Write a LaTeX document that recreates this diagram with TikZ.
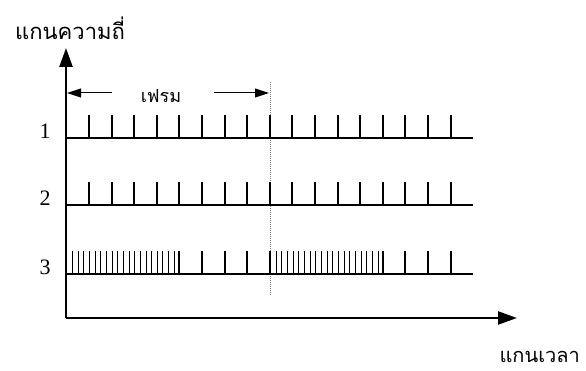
\documentclass[tikz,border=0pt]{standalone}
\usepackage{fontspec}
\setmainfont{Liberation Serif}
\newfontfamily\thaifont[Script=Thai]{Loma}
\usetikzlibrary{arrows.meta, positioning}

\begin{document}
\begin{tikzpicture}[x=1pt, y=-1pt,
  axis/.style={line width=2.4pt, -{Triangle[length=19pt, width=13pt]}},
  rowline/.style={line width=2pt},
  tick/.style={line width=2pt},
  densetick/.style={line width=1pt},
  framearrow/.style={line width=1pt, -{Triangle[length=14pt, width=9pt]}},
  num/.style={font=\fontsize{22}{22}\selectfont, inner sep=0pt},
  thai/.style={font=\thaifont\fontsize{22}{22}\selectfont, inner sep=0pt}
]
  \useasboundingbox (0,0) rectangle (586,371);

  \coordinate (o) at (66,318);
  \coordinate (ytip) at (66,48);
  \coordinate (xtip) at (517,318);
  \draw[axis] (o) -- (ytip);
  \draw[axis] (o) -- (xtip);

  \node[thai, anchor=base west] (ylab) at (15,40) {แกนความถี่};
  \node[thai, font=\thaifont\fontsize{20}{20}\selectfont, anchor=base east] (xlab) at (580,362) {แกนเวลา};

  % frame
  \coordinate (fl) at (112,93);
  \coordinate (fr) at (214,93);
  \draw[framearrow] (fl) -- (67,93);
  \draw[framearrow] (fr) -- (269,93);
  \node[thai, font=\thaifont\fontsize{18}{18}\selectfont] (frame) at (161,96) {เฟรม};
  \draw[line width=1pt, gray, dash pattern=on 1pt off 1pt] (270.5,82) -- (270.5,295);

  % rows
  \foreach \y/\lab in {138/1, 205/2, 274/3} {
    \node[num] (n\lab) at (45,\y-7) {\lab};
    \draw[rowline] (66,\y) -- (473,\y);
  }
  \foreach \k in {0,...,16} {
    \pgfmathsetmacro\xx{round(89+22.6*\k)}
    \draw[tick] (\xx,138) -- ++(0,-23);
    \draw[tick] (\xx,205) -- ++(0,-23);
  }
  \foreach \k in {4,...,8,13,14,15,16} {
    \pgfmathsetmacro\xx{round(89+22.6*\k)}
    \draw[tick] (\xx,274) -- ++(0,-23);
  }
  \foreach \j in {1,...,19} {
    \pgfmathsetmacro\xa{round(179.4-5.65*\j)+0.5}
    \pgfmathsetmacro\xb{round(270.2+5.65*\j)+0.5}
    \draw[densetick] (\xa,274) -- ++(0,-23);
    \draw[densetick] (\xb,274) -- ++(0,-23);
  }
\end{tikzpicture}
\end{document}
